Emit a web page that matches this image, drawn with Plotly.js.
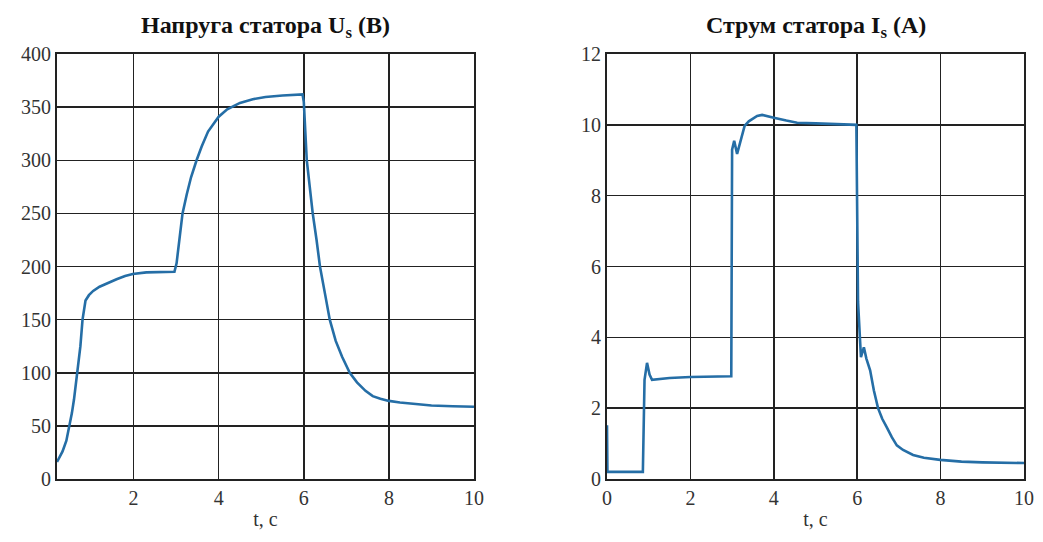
<!DOCTYPE html>
<html>
<head>
<meta charset="utf-8">
<script src="https://cdn.plot.ly/plotly-3.0.1.min.js"></script>
<style>
  html, body { margin: 0; padding: 0; background: #fff; }
  #chart { width: 1043px; height: 542px; }
</style>
</head>
<body>
<div id="chart"></div>
<script>
// Stator voltage Us (V) over time t (s)
const tVoltage = [0.2, 0.26, 0.33, 0.42, 0.49, 0.55, 0.6, 0.68, 0.75, 0.8, 0.87,
  0.95, 1.05, 1.2, 1.36, 1.6, 1.8, 1.98, 2.3, 2.96,
  3.01, 3.05, 3.1, 3.15, 3.25, 3.35, 3.48, 3.6, 3.75, 4.0, 4.2, 4.5, 4.8, 5.1, 5.5, 5.97,
  6.0, 6.03, 6.07, 6.14, 6.21, 6.3, 6.38, 6.5, 6.61, 6.75, 6.9, 7.08, 7.25, 7.45, 7.62, 7.8, 8.0, 8.26, 8.6, 9.0, 9.5, 10];
const usVoltage = [16, 20, 26, 36, 49, 62, 75, 100, 125, 150, 168,
  173, 177, 181, 184, 188, 191, 193, 194.5, 195,
  203, 215, 232, 250, 268, 284, 300, 313, 327, 341, 348, 354, 357.5, 359.5, 361, 362,
  355, 330, 300, 275, 250, 225, 200, 174, 150, 130, 115, 100, 91, 83, 78, 75.5, 73.5, 72, 70.5, 69.2, 68.5, 68];

// Stator current Is (A) over time t (s)
const tCurrent = [0, 0.01, 0.86, 0.9, 0.96, 1.02, 1.08, 1.5, 2.0, 2.5, 2.98,
  3.0, 3.05, 3.12, 3.2, 3.3, 3.4, 3.5, 3.6, 3.72, 3.85, 4.0, 4.3, 4.56, 5.0, 5.35, 5.7, 5.98,
  6.02, 6.09, 6.16, 6.22, 6.31, 6.4, 6.5, 6.6, 6.71, 6.83, 6.95, 7.1, 7.34, 7.6, 7.99, 8.5, 9, 10];
const isCurrent = [1.52, 0.2, 0.2, 2.8, 3.28, 2.95, 2.8, 2.85, 2.88, 2.9, 2.9,
  9.3, 9.55, 9.18, 9.5, 9.97, 10.1, 10.18, 10.25, 10.28, 10.25, 10.2, 10.12, 10.06, 10.04, 10.03, 10.01, 10.0,
  5.0, 3.44, 3.72, 3.4, 3.07, 2.5, 2.0, 1.7, 1.46, 1.18, 0.95, 0.82, 0.68, 0.6, 0.54, 0.49, 0.47, 0.45];

// Tick values and labels
const timeTicks = [0, 2, 4, 6, 8, 10];
const voltageTicks = [0, 50, 100, 150, 200, 250, 300, 350, 400];
const currentTicks = [0, 2, 4, 6, 8, 10, 12];

const titleLeft = '<b>Напруга статора U<sub>s</sub> (B)</b>';
const titleRight = '<b>Струм статора I<sub>s</sub> (A)</b>';
const xLabel = 't, c';

const lineColor = '#256ea6';
const ink = '#222';
const serif = 'Liberation Serif, Times New Roman, serif';

const traces = [
  { x: tVoltage, y: usVoltage, type: 'scatter', mode: 'lines', xaxis: 'x', yaxis: 'y',
    line: { color: lineColor, width: 2.6 }, hoverinfo: 'skip' },
  { x: tCurrent, y: isCurrent, type: 'scatter', mode: 'lines', xaxis: 'x2', yaxis: 'y2',
    line: { color: lineColor, width: 2.6 }, hoverinfo: 'skip' }
];

function xAxis(domain, range, anchor) {
  return {
    domain: domain, range: range, anchor: anchor,
    tickvals: timeTicks, ticktext: timeTicks.map(String),
    showgrid: true, gridcolor: ink, gridwidth: 1.5,
    zeroline: false, showline: true, mirror: true, linecolor: ink, linewidth: 2,
    ticks: '', tickfont: { family: serif, size: 20, color: '#333' },
    title: { text: xLabel, font: { family: serif, size: 20, color: '#333' }, standoff: 4 }
  };
}
function yAxis(domain, range, ticks, anchor) {
  return {
    domain: domain, range: range, anchor: anchor,
    tickvals: ticks, ticktext: ticks.map(String),
    showgrid: true, gridcolor: ink, gridwidth: 1.5,
    zeroline: false, showline: true, mirror: true, linecolor: ink, linewidth: 2,
    ticks: '', tickfont: { family: serif, size: 20, color: '#333' }
  };
}

const yDom = [1 - 479 / 542, 1 - 54 / 542];
const layout = {
  width: 1043, height: 542,
  margin: { l: 0, r: 0, t: 0, b: 0 },
  paper_bgcolor: '#fff', plot_bgcolor: '#fff',
  showlegend: false,
  xaxis: xAxis([57 / 1043, 474 / 1043], [0.2, 10], 'y'),
  yaxis: yAxis(yDom, [0, 400], voltageTicks, 'x'),
  xaxis2: xAxis([607 / 1043, 1024 / 1043], [0, 10], 'y2'),
  yaxis2: yAxis(yDom, [0, 12], currentTicks, 'x2'),
  annotations: [
    { text: titleLeft, xref: 'paper', yref: 'paper', x: 265.5 / 1043, y: 1 - 27 / 542,
      xanchor: 'center', yanchor: 'middle', showarrow: false,
      font: { family: serif, size: 24, color: '#111' } },
    { text: titleRight, xref: 'paper', yref: 'paper', x: 815.5 / 1043, y: 1 - 27 / 542,
      xanchor: 'center', yanchor: 'middle', showarrow: false,
      font: { family: serif, size: 24, color: '#111' } }
  ]
};

Plotly.newPlot('chart', traces, layout, { staticPlot: true, displayModeBar: false });
</script>
</body>
</html>
